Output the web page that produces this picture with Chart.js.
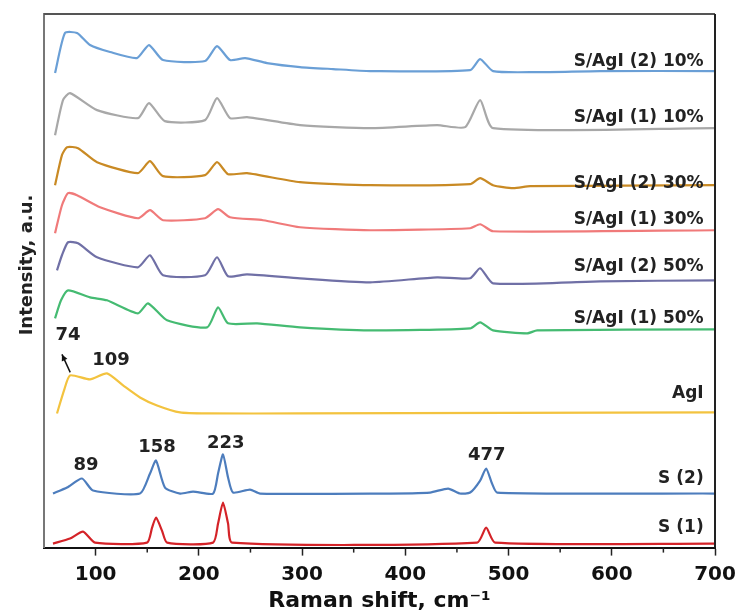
<!DOCTYPE html>
<html>
<head>
<meta charset="utf-8">
<script src="https://cdn.jsdelivr.net/npm/chart.js@4/dist/chart.umd.min.js"></script>
<style>
  html, body { margin: 0; padding: 0; background: #fff; }
  #wrap { width: 740px; height: 614px; }
</style>
</head>
<body>
<div id="wrap"><canvas id="raman"></canvas></div>
<script>
// spectra (x = Raman shift, y = stacked intensity, a.u.)
const sAgI2_10 = [[60.7,474],[70.3,514],[82,514],[94.6,502],[114,495],[140,489],[151.7,502],[165.3,487],[206,486],[217.6,501],[230.2,487],[244.8,489],[266,484],[298,480],[330,478],[366,476],[462.8,477],[472.5,488],[485,476],[527.7,475],[588.8,476],[700,476]];
const sAgI1_10 = [[60.7,412],[68.4,447],[75.2,454],[101.4,437],[141,429],[151.7,444],[167,426],[206,427],[217.6,449],[230.2,429],[246.7,430],[298,422],[366,419],[430.8,422],[458,420],[472.5,447],[485,419],[700,419]];
const sAgI2_30 = [[60.7,362],[67.4,392],[72.3,400],[83,399],[101.4,385],[141,374],[152.7,386],[165.3,371],[206,372],[217.6,385],[228.3,373],[246.7,374],[298,365],[366,362],[462.8,363],[472.5,369],[485,362],[504.5,359],[521,361],[700,362]];
const sAgI1_30 = [[60.7,314],[67.4,342],[73.3,354],[82,352],[104.3,340],[141,329],[152.7,337],[165.3,327],[206,329],[218.6,338],[230.2,330],[262.2,327],[298,320],[366,317],[462.8,319],[472.5,323],[485,316],[700,317]];
const sAgI2_50 = [[62.6,277],[67.4,292],[73.3,305],[83,304],[101.4,290],[141,280],[152.7,292],[165.3,272],[206,272],[217.6,290],[228.3,271],[246.7,273],[298,269],[366,265],[430.8,270],[462.8,269],[472.5,279],[485,264],[588.8,266],[700,267]];
const sAgI1_50 = [[60.7,229],[66.5,247],[73.3,257],[94.6,250],[111,247],[141,234],[150.8,244],[169.2,227],[208,220],[218.6,240],[228.3,224],[256.4,224],[298,220],[366,217],[462.8,219],[472.5,225],[485,217],[518,214],[527.7,217],[700,218]];
const agI = [[62.6,134],[69.4,157],[75.2,172],[94.6,168],[111,174],[126.6,162],[143,150],[159.5,142],[181.8,135],[208,134],[298,134],[700,135]];
const s2 = [[58.7,54],[72.3,60],[86.8,69],[97.5,57],[143,54],[152.7,74],[158.5,87],[167.2,60],[181.8,54],[194.4,56],[213.8,54],[218.6,74],[223.4,93],[228.3,70],[233.1,55],[249.6,58],[259.3,54],[375.6,54],[424,55],[441.5,59],[453,54],[462.8,55],[472.5,67],[478.3,79],[484,64],[489,55],[700,54]];
const s1 = [[58.7,4],[75.2,9],[87.8,16],[99.4,5],[149.8,5],[154.7,20],[158.5,30],[164.3,17],[169.2,5],[213.8,5],[218.6,24],[223.4,45],[228.3,24],[232.2,5],[469.6,5],[478.3,20],[487,5],[700,4]];

const seriesNames = ['S/AgI (2) 10%', 'S/AgI (1) 10%', 'S/AgI (2) 30%', 'S/AgI (1) 30%', 'S/AgI (2) 50%', 'S/AgI (1) 50%', 'AgI', 'S (2)', 'S (1)'];
const seriesData = [sAgI2_10, sAgI1_10, sAgI2_30, sAgI1_30, sAgI2_50, sAgI1_50, agI, s2, s1];
const seriesColors = ['#6a9fd6', '#a8a8a8', '#c98a24', '#f07a7a', '#7070a6', '#45bb72', '#f3c33f', '#4d7dbd', '#d42328'];

const xTickValues = [100, 200, 300, 400, 500, 600, 700];
const xMinorTicks = [150, 250, 350, 450, 550, 650];

// name labels on the right, peak labels
const nameLabelY = [485, 430, 364, 328, 281, 229, 154, 69, 20];
const peakLabels = ['74', '109', '89', '158', '223', '477'];
const peakLabelPos = [[73.3, 212], [115, 187], [90.7, 82], [159.5, 100], [226, 104], [479, 92]];

const FONT = '"DejaVu Sans", Arial, sans-serif';

const decorPlugin = {
    id: 'decor',
    afterDraw(chart) {
        const { ctx, chartArea: a, scales: { x, y } } = chart;
        ctx.save();

        // frame round the plot
        ctx.lineWidth = 2;
        ctx.strokeStyle = '#555';
        ctx.beginPath(); ctx.moveTo(a.left, a.top); ctx.lineTo(a.right, a.top); ctx.stroke();
        ctx.strokeStyle = '#222';
        ctx.beginPath(); ctx.moveTo(a.right, a.top); ctx.lineTo(a.right, a.bottom); ctx.stroke();

        // minor ticks
        ctx.strokeStyle = '#222';
        ctx.lineWidth = 1.5;
        xMinorTicks.forEach(v => {
            const px = x.getPixelForValue(v);
            ctx.beginPath(); ctx.moveTo(px, a.bottom); ctx.lineTo(px, a.bottom + 5); ctx.stroke();
        });

        // names on the right
        ctx.fillStyle = '#222';
        ctx.font = 'bold 17px ' + FONT;
        ctx.textAlign = 'right';
        ctx.textBaseline = 'middle';
        seriesNames.forEach((n, i) => {
            ctx.fillText(n, x.getPixelForValue(689), y.getPixelForValue(nameLabelY[i]));
        });

        // peak positions
        ctx.font = 'bold 18px ' + FONT;
        ctx.textAlign = 'center';
        peakLabels.forEach((t, i) => {
            ctx.fillText(t, x.getPixelForValue(peakLabelPos[i][0]), y.getPixelForValue(peakLabelPos[i][1]));
        });

        // arrow from the AgI 74 shoulder
        const x0 = x.getPixelForValue(75.4), y0 = y.getPixelForValue(175);
        const x1 = x.getPixelForValue(67.4), y1 = y.getPixelForValue(193);
        ctx.strokeStyle = '#111';
        ctx.lineWidth = 1.5;
        ctx.beginPath(); ctx.moveTo(x0, y0); ctx.lineTo(x1, y1); ctx.stroke();
        const ang = Math.atan2(y1 - y0, x1 - x0);
        ctx.beginPath();
        ctx.moveTo(x1, y1);
        ctx.lineTo(x1 - 7 * Math.cos(ang - 0.45), y1 - 7 * Math.sin(ang - 0.45));
        ctx.lineTo(x1 - 7 * Math.cos(ang + 0.45), y1 - 7 * Math.sin(ang + 0.45));
        ctx.closePath();
        ctx.fillStyle = '#111';
        ctx.fill();

        // y title
        ctx.save();
        ctx.translate(27, 265);
        ctx.rotate(-Math.PI / 2);
        ctx.font = 'bold 18px ' + FONT;
        ctx.fillStyle = '#222';
        ctx.textAlign = 'center';
        ctx.fillText('Intensity, a.u.', 0, 0);
        ctx.restore();

        ctx.restore();
    }
};

new Chart(document.getElementById('raman'), {
    type: 'line',
    data: {
        datasets: seriesData.map((d, i) => ({
            label: seriesNames[i],
            data: d.map(p => ({ x: p[0], y: p[1] })),
            borderColor: seriesColors[i],
            borderWidth: 2.2,
            pointRadius: 0,
            tension: 0.2,
            fill: false
        }))
    },
    options: {
        responsive: true,
        maintainAspectRatio: false,
        animation: false,
        layout: { padding: { left: 44, right: 25, top: 14, bottom: 0 } },
        plugins: { legend: { display: false }, tooltip: { enabled: false } },
        scales: {
            x: {
                type: 'linear',
                min: 50,
                max: 700,
                afterBuildTicks: s => { s.ticks = xTickValues.map(v => ({ value: v })); },
                afterFit: s => { s.paddingRight = 0; s.paddingLeft = 0; },
                grid: { drawOnChartArea: false, tickLength: 8, tickColor: '#222', tickWidth: 1.5 },
                border: { color: '#111', width: 2 },
                ticks: { color: '#111', padding: 7, maxRotation: 0, font: { family: FONT, size: 20, weight: 'bold' } },
                title: { display: true, text: 'Raman shift, cm⁻¹', color: '#111', padding: { top: -6, bottom: 0 }, font: { family: FONT, size: 22, weight: 'bold' } }
            },
            y: {
                min: 0,
                max: 533,
                grid: { display: false, drawTicks: false },
                border: { color: '#777', width: 2 },
                ticks: { display: false }
            }
        }
    },
    plugins: [decorPlugin]
});
</script>
</body>
</html>
